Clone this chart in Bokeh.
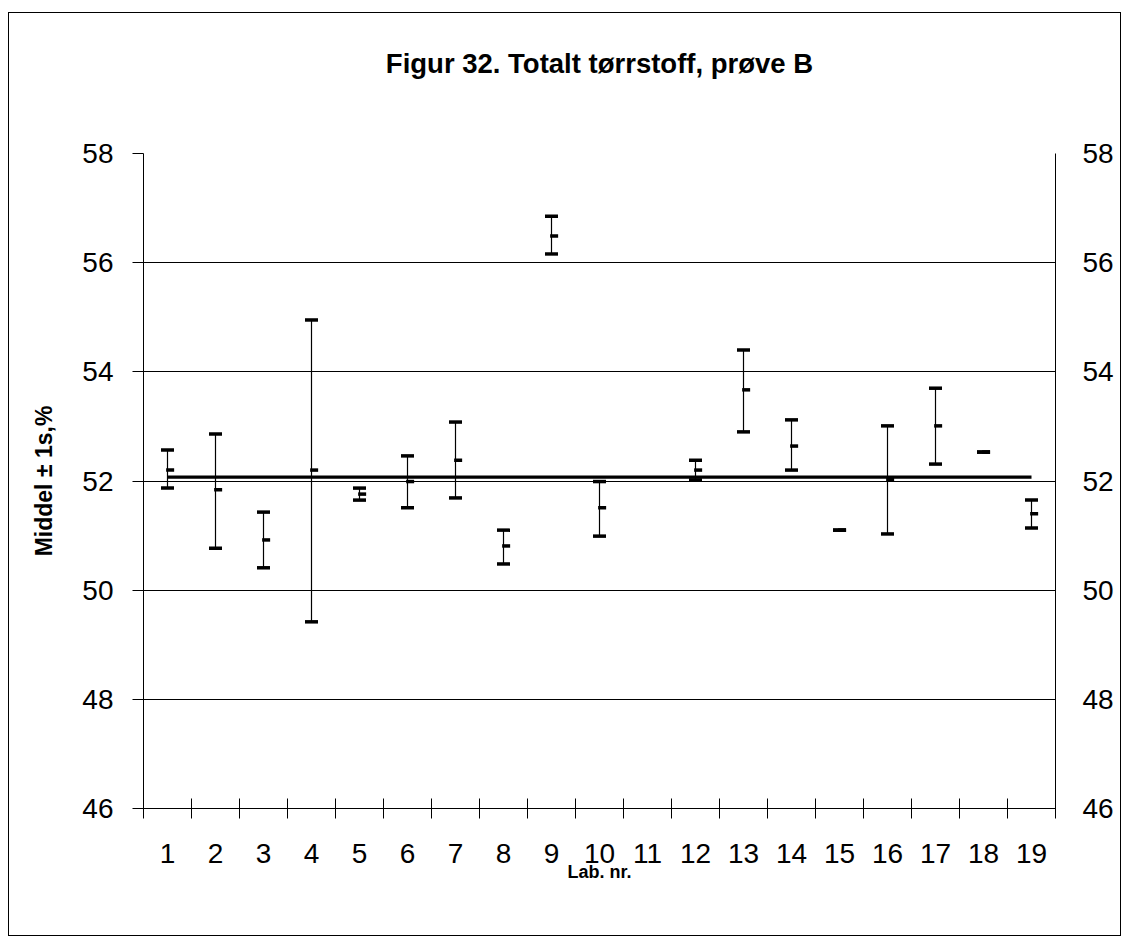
from bokeh.plotting import figure
from bokeh.models import Range1d, LinearAxis, FixedTicker, ColumnDataSource
from bokeh.transform import dodge
from bokeh.embed import file_html
from bokeh.resources import INLINE

# ---- data ----
labs = list(range(1, 20))
high = [52.57, 52.86, 51.43, 54.95, 51.87, 52.46, 53.08, 51.10, 56.85, 51.99,
        None, 52.38, 54.40, 53.12, 51.10, 53.01, 53.70, 52.53, 51.65]
mean = [52.20, 51.84, 50.92, 52.20, 51.76, 51.99, 52.38, 50.81, 56.49, 51.51,
        None, 52.20, 53.67, 52.64, 51.10, 52.03, 53.01, 52.53, 51.40]
low = [51.87, 50.77, 50.41, 49.42, 51.65, 51.51, 51.69, 50.48, 56.16, 50.99,
       None, 52.02, 52.90, 52.20, 51.10, 51.03, 52.31, 52.53, 51.14]
ref_value = 52.07
y_ticks = [46, 48, 50, 52, 54, 56, 58]
x_boundaries = [i + 0.5 for i in range(0, 20)]

title_text = "Figur 32. Totalt tørrstoff, prøve B"
x_title = "Lab. nr."
y_title = "Middel ± 1s,%"

rows = [(l, h, m, lo) for l, h, m, lo in zip(labs, high, mean, low) if h is not None]
src = ColumnDataSource(dict(
    lab=[r[0] for r in rows],
    high=[r[1] for r in rows],
    mean=[r[2] for r in rows],
    low=[r[3] for r in rows],
))

FONT = "Liberation Sans"

p = figure(width=1113, height=924, output_backend="svg", toolbar_location=None,
           x_range=Range1d(0.5, 19.5), y_range=Range1d(46, 58),
           min_border_left=134, min_border_right=67, min_border_top=140,
           min_border_bottom=129, background_fill_color="white",
           border_fill_color="white")
p.styles = {"border": "1px solid #000", "margin-left": "8px", "margin-top": "12px"}
p.outline_line_color = None

# grid
p.xgrid.grid_line_color = None
p.ygrid.ticker = FixedTicker(ticks=y_ticks)
p.ygrid.grid_line_color = "black"
p.ygrid.grid_line_width = 1

# x axis (bottom)
xa = p.below[0]
xa.ticker = FixedTicker(ticks=labs, minor_ticks=x_boundaries)
xa.major_tick_line_color = None
xa.minor_tick_line_color = "black"
xa.minor_tick_in = 10
xa.minor_tick_out = 10
xa.axis_line_color = "black"
xa.major_label_text_font = FONT
xa.major_label_text_font_size = "28px"
xa.major_label_text_color = "black"
xa.major_label_standoff = 25
xa.axis_label = x_title
xa.axis_label_text_font = FONT
xa.axis_label_text_font_size = "18px"
xa.axis_label_text_font_style = "bold"
xa.axis_label_text_color = "black"
xa.axis_label_standoff = -4

# left y axis
ya = p.left[0]
ya.ticker = FixedTicker(ticks=y_ticks)
ya.minor_tick_line_color = None
ya.major_tick_in = 0
ya.major_tick_out = 11
ya.axis_line_color = "black"
ya.major_label_text_font = FONT
ya.major_label_text_font_size = "28px"
ya.major_label_text_color = "black"
ya.major_label_standoff = 19
ya.axis_label = y_title
ya.axis_label_text_font = FONT
ya.axis_label_text_font_size = "23px"
ya.axis_label_text_font_style = "bold"
ya.axis_label_text_color = "black"
ya.axis_label_standoff = 22

# right y axis
ra = LinearAxis(ticker=FixedTicker(ticks=y_ticks))
ra.minor_tick_line_color = None
ra.major_tick_in = 0
ra.major_tick_out = 0
ra.axis_line_color = "black"
ra.major_label_text_font = FONT
ra.major_label_text_font_size = "28px"
ra.major_label_text_color = "black"
ra.major_label_standoff = 27
p.add_layout(ra, "right")

# title drawn as the label of a bare axis above the frame
ta = LinearAxis(ticker=FixedTicker(ticks=[]))
ta.axis_line_color = None
ta.major_tick_line_color = None
ta.minor_tick_line_color = None
ta.major_tick_in = 0
ta.major_tick_out = 0
ta.major_label_text_font_size = "0px"
ta.axis_label = title_text
ta.axis_label_text_font = FONT
ta.axis_label_text_font_size = "27.5px"
ta.axis_label_text_font_style = "bold"
ta.axis_label_text_color = "black"
ta.axis_label_standoff = 75
p.add_layout(ta, "above")

# reference line (overall mean)
p.line(x=[labs[0], labs[-1]], y=[ref_value, ref_value], line_color="black",
       line_width=3.2)

# error bars
p.segment(x0="lab", y0="low", x1="lab", y1="high", source=src,
          line_color="black", line_width=1.2)
p.scatter(x="lab", y="high", source=src, marker="dash", size=13,
          line_color="black", line_width=3.5)
p.scatter(x="lab", y="low", source=src, marker="dash", size=13,
          line_color="black", line_width=3.5)
p.scatter(x=dodge("lab", 0.055, range=p.x_range), y="mean", source=src,
          marker="dash", size=8, line_color="black", line_width=3.5)

open("out.html", "w").write(file_html(p, INLINE))
